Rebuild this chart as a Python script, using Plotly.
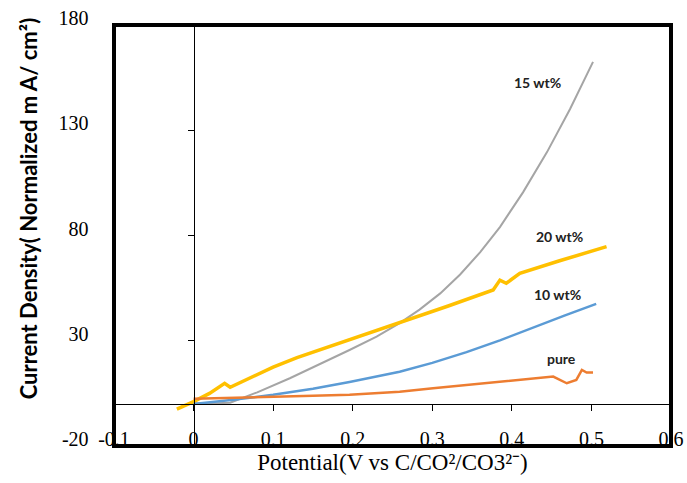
import plotly.graph_objects as go

# ---- data ----
x_15 = [0.0, 0.02, 0.046, 0.08, 0.121, 0.16, 0.196, 0.23, 0.259, 0.284, 0.31, 0.335, 0.36, 0.385, 0.414, 0.444, 0.473, 0.502]
y_15 = [0.3, 0.2, 0.6, 5.5, 12.2, 19.0, 25.6, 32.0, 38.4, 44.8, 52.5, 61.5, 72.0, 84.0, 100.5, 119.5, 140.0, 162.5]

x_20 = [-0.021, 0.0, 0.02, 0.039, 0.046, 0.071, 0.1, 0.13, 0.196, 0.259, 0.32, 0.3765, 0.385, 0.393, 0.402, 0.41, 0.46, 0.519]
y_20 = [-2.5, 1.1, 5.0, 9.8, 7.9, 12.2, 17.5, 22.0, 30.4, 38.3, 46.5, 54.1, 58.8, 57.3, 59.6, 62.0, 68.0, 74.7]

x_10 = [0.0, 0.008, 0.05, 0.1, 0.15, 0.196, 0.259, 0.3, 0.343, 0.385, 0.427, 0.466, 0.506]
y_10 = [0.0, 0.3, 2.0, 4.3, 7.2, 10.4, 15.3, 19.5, 24.6, 30.2, 36.4, 41.9, 47.5]

x_pure = [0.0, 0.05, 0.1, 0.15, 0.196, 0.23, 0.259, 0.301, 0.343, 0.385, 0.427, 0.452, 0.469, 0.481, 0.488, 0.494, 0.502]
y_pure = [2.4, 3.0, 3.5, 3.9, 4.3, 5.0, 5.8, 7.4, 9.0, 10.6, 12.2, 13.0, 9.8, 11.4, 16.1, 14.9, 14.9]

series_names = ["15 wt%", "20 wt%", "10 wt%", "pure"]
series_colors = ["#A5A5A5", "#FFC000", "#5B9BD5", "#ED7D31"]
series_widths = [2, 3.5, 2.5, 2.5]
label_x = [0.4327, 0.4603, 0.4578, 0.4628]
label_y = [152.8, 79.3, 52.2, 21.8]

x_ticks = [-0.1, 0, 0.1, 0.2, 0.3, 0.4, 0.5, 0.6]
x_ticktext = ["-0.1", "0", "0.1", "0.2", "0.3", "0.4", "0.5", "0.6"]
y_ticks = [-20, 30, 80, 130, 180]
y_ticktext = ["-20", "30", "80", "130", "180"]

x_range = [-0.1, 0.6]
y_range = [-20, 180]

y_title = "<b>Current Density( Normalized m A/ cm²)</b>"
x_title = "Potential(V vs C/CO²/CO3²⁻)"

fig = go.Figure()
xs = [x_15, x_20, x_10, x_pure]
ys = [y_15, y_20, y_10, y_pure]
for xv, yv, name, col, w in zip(xs, ys, series_names, series_colors, series_widths):
    fig.add_trace(go.Scatter(x=xv, y=yv, mode="lines", name=name,
                             line=dict(color=col, width=w),
                             showlegend=False, hoverinfo="skip"))

for name, lx, ly in zip(series_names, label_x, label_y):
    fig.add_annotation(x=lx, y=ly, xref="x", yref="y", text="<b>" + name + "</b>",
                       showarrow=False, font=dict(family="Lato", size=14, color="#222222"))

# rotated y-axis title (placed above the plot centre, as in the original)
fig.add_annotation(x=-0.154, y=0.565, xref="paper", yref="paper", text=y_title,
                   textangle=-90, showarrow=False, xanchor="center", yanchor="middle",
                   font=dict(family="Lato", size=22, color="black"))

serif = "Liberation Serif"
x_zero_pos = (0 - y_range[0]) / (y_range[1] - y_range[0])
y_zero_pos = (0 - x_range[0]) / (x_range[1] - x_range[0])

fig.update_layout(
    width=687, height=483,
    margin=dict(l=114, r=16, t=25, b=37, autoexpand=False),
    paper_bgcolor="white", plot_bgcolor="white",
    xaxis=dict(range=x_range, anchor="free", position=x_zero_pos, automargin=False,
               showline=True, linecolor="black", linewidth=1,
               ticks="outside", ticklen=6, tickcolor="black", tickwidth=1,
               tickvals=x_ticks, ticktext=x_ticktext,
               ticklabelstandoff=11,
               tickfont=dict(family=serif, size=20, color="black"),
               showgrid=False, zeroline=False,
               title=dict(text=x_title,
                          font=dict(family=serif, size=23, color="black"),
                          standoff=0)),
    yaxis=dict(range=y_range, anchor="free", position=y_zero_pos, automargin=False,
               showline=True, linecolor="black", linewidth=1,
               ticks="outside", ticklen=6, tickcolor="black", tickwidth=1,
               tickvals=y_ticks, ticktext=y_ticktext,
               ticklabelstandoff=95, ticklabelshift=-7,
               tickfont=dict(family=serif, size=20, color="black"),
               showgrid=False, zeroline=False),
)

fig.add_shape(type="rect", xref="x domain", yref="y domain", x0=0, x1=1, y0=0, y1=1,
              line=dict(color="black", width=4), layer="above")

fig.write_html("out.html")
